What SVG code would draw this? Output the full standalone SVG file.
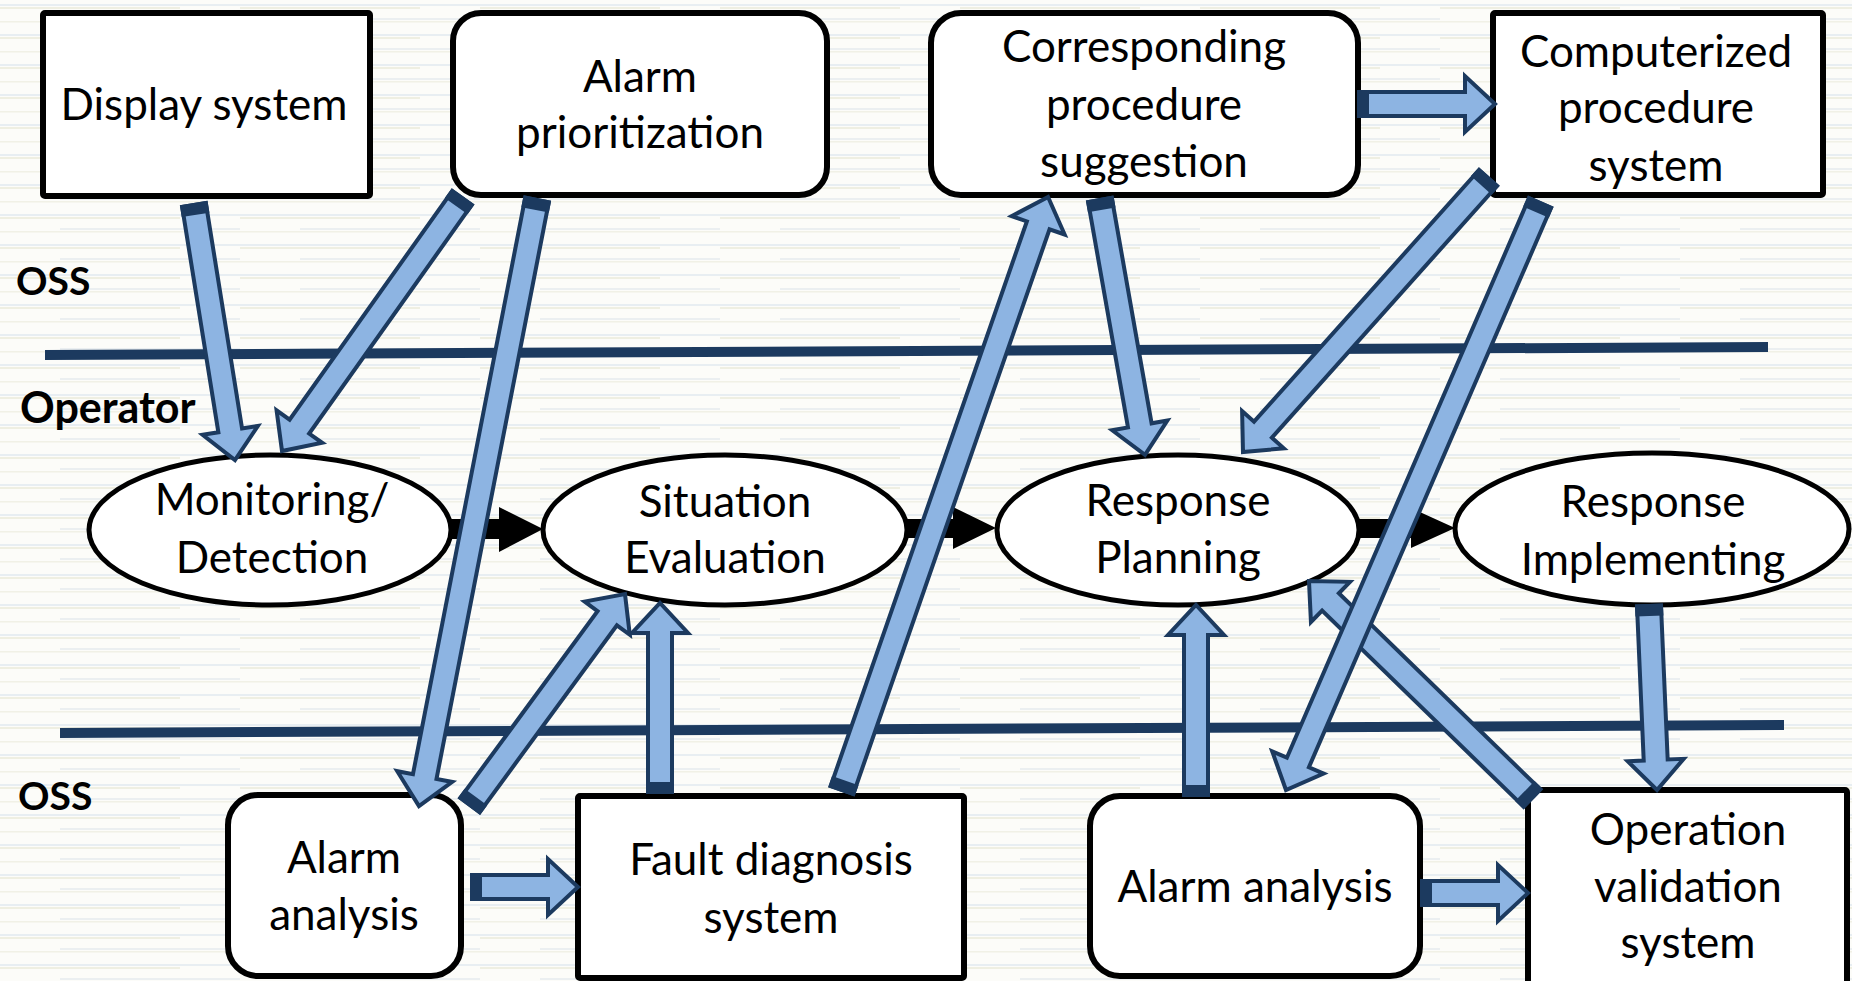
<svg xmlns="http://www.w3.org/2000/svg" width="1852" height="981" viewBox="0 0 1852 981">
<style>
.box{fill:#fff;stroke:#000;stroke-width:6}
.ell{fill:#fff;stroke:#000;stroke-width:5}
.t{font-family:Lato,"Liberation Sans",sans-serif;font-size:44px;fill:#000;text-anchor:middle}
.lbl{font-family:Lato,"Liberation Sans",sans-serif;font-size:39px;font-weight:bold;fill:#000}
.sep{stroke:#1C3A5F;stroke-width:10;fill:none}
.ba{fill:#8DB4E2;stroke:#1C3A5F;stroke-width:4;stroke-linejoin:miter}
.tail{fill:#1C3A5F}
.blk{fill:#000}
</style>
<defs>
<pattern id="bg" patternUnits="userSpaceOnUse" width="240" height="30">
<rect width="240" height="30" fill="#FCFCF9"/>
<rect y="4" width="240" height="2" fill="#E8EEF2"/>
<rect y="7" width="180" height="2" fill="#EFEFE2"/>
<rect x="60" y="18" width="180" height="2" fill="#EBEFF1"/>
<rect y="21" width="240" height="1.5" fill="#F1F1E6"/>
</pattern>
</defs>
<rect width="1852" height="981" fill="url(#bg)"/>

<g id="separators">
<line class="sep" x1="45" y1="355" x2="1768" y2="347"/>
<line class="sep" x1="60" y1="733" x2="1784" y2="725"/>
</g>

<g id="labels">
<text class="lbl" x="16" y="295">OSS</text>
<text class="lbl" x="20" y="423" style="font-size:43px">Operator</text>
<text class="lbl" x="18" y="810">OSS</text>
</g>

<g id="nodes">
<g id="display-system">
<rect class="box" x="43" y="13" width="327" height="183" rx="2"/>
<text class="t" x="204" y="120">Display system</text>
</g>
<g id="alarm-prioritization">
<rect class="box" x="453" y="13" width="374" height="182" rx="28"/>
<text class="t" x="640" y="92">Alarm</text>
<text class="t" x="640" y="148">prioritization</text>
</g>
<g id="corresponding-procedure">
<rect class="box" x="931" y="13" width="427" height="182" rx="30"/>
<text class="t" x="1144" y="62">Corresponding</text>
<text class="t" x="1144" y="120">procedure</text>
<text class="t" x="1144" y="177">suggestion</text>
</g>
<g id="computerized-procedure">
<rect class="box" x="1493" y="13" width="330" height="182" rx="2"/>
<text class="t" x="1656" y="67">Computerized</text>
<text class="t" x="1656" y="123">procedure</text>
<text class="t" x="1656" y="181">system</text>
</g>
<g id="monitoring">
<ellipse class="ell" cx="270" cy="530" rx="181" ry="75"/>
<text class="t" x="272" y="515">Monitoring/</text>
<text class="t" x="272" y="573">Detection</text>
</g>
<g id="situation">
<ellipse class="ell" cx="725" cy="530" rx="182" ry="75"/>
<text class="t" x="725" y="517">Situation</text>
<text class="t" x="725" y="573">Evaluation</text>
</g>
<g id="planning">
<ellipse class="ell" cx="1178" cy="530" rx="181" ry="75"/>
<text class="t" x="1178" y="516">Response</text>
<text class="t" x="1178" y="573">Planning</text>
</g>
<g id="implementing">
<ellipse class="ell" cx="1652" cy="529" rx="197" ry="76"/>
<text class="t" x="1653" y="517">Response</text>
<text class="t" x="1653" y="575">Implementing</text>
</g>
<g id="alarm-analysis-1">
<rect class="box" x="228" y="795" width="233" height="181" rx="30"/>
<text class="t" x="344" y="873">Alarm</text>
<text class="t" x="344" y="930">analysis</text>
</g>
<g id="fault-diagnosis">
<rect class="box" x="578" y="796" width="386" height="182" rx="2"/>
<text class="t" x="771" y="875">Fault diagnosis</text>
<text class="t" x="771" y="933">system</text>
</g>
<g id="alarm-analysis-2">
<rect class="box" x="1090" y="796" width="330" height="180" rx="30"/>
<text class="t" x="1255" y="902">Alarm analysis</text>
</g>
<g id="operation-validation">
<rect class="box" x="1528" y="790" width="319" height="200" rx="2"/>
<text class="t" x="1688" y="845">Operation</text>
<text class="t" x="1688" y="902">validation</text>
<text class="t" x="1688" y="958">system</text>
</g>
</g>

<g id="connectors">
<polygon class="blk" points="449,519 499,519 499,507 543,529 499,552 499,539 449,539"/>
<polygon class="blk" points="905,519 953,519 953,507 996,528 953,549 953,538 905,538"/>
<polygon class="blk" points="1357,519 1411,519 1411,508 1455,528 1411,548 1411,538 1357,538"/>

<g transform="translate(194,205) rotate(80.87)"><polygon class="ba" points="0,-12 228.3,-12 228.3,-28 258.3,0 228.3,28 228.3,12 0,12"/><rect class="tail" x="-2" y="-14" width="12" height="28"/></g>
<g transform="translate(462,198) rotate(125.43)"><polygon class="ba" points="0,-12 280.5,-12 280.5,-28 310.5,0 280.5,28 280.5,12 0,12"/><rect class="tail" x="-2" y="-14" width="12" height="28"/></g>
<g transform="translate(470,805) rotate(-53.70)"><polygon class="ba" points="0,-12 231.8,-12 231.8,-28 261.8,0 231.8,28 231.8,12 0,12"/><rect class="tail" x="-2" y="-14" width="12" height="28"/></g>
<g transform="translate(660,792) rotate(-90)"><polygon class="ba" points="0,-12 159,-12 159,-28 189,0 159,28 159,12 0,12"/><rect class="tail" x="-2" y="-14" width="12" height="28"/></g>
<g transform="translate(1100,200) rotate(79.99)"><polygon class="ba" points="0,-12 228.9,-12 228.9,-28 258.9,0 228.9,28 228.9,12 0,12"/><rect class="tail" x="-2" y="-14" width="12" height="28"/></g>
<g transform="translate(1359,104) rotate(0)"><polygon class="ba" points="0,-12 106,-12 106,-28 136,0 106,28 106,12 0,12"/><rect class="tail" x="-2" y="-14" width="12" height="28"/></g>
<g transform="translate(1488,178) rotate(131.80)"><polygon class="ba" points="0,-12 337.6,-12 337.6,-28 367.6,0 337.6,28 337.6,12 0,12"/><rect class="tail" x="-2" y="-14" width="12" height="28"/></g>
<g transform="translate(1532,798) rotate(-135.78)"><polygon class="ba" points="0,-12 281.2,-12 281.2,-28 311.2,0 281.2,28 281.2,12 0,12"/><rect class="tail" x="-2" y="-14" width="12" height="28"/></g>
<g transform="translate(1649,606) rotate(87.51)"><polygon class="ba" points="0,-12 154.2,-12 154.2,-28 184.2,0 154.2,28 154.2,12 0,12"/><rect class="tail" x="-2" y="-14" width="12" height="28"/></g>
<g transform="translate(1196,795) rotate(-90)"><polygon class="ba" points="0,-12 160,-12 160,-28 190,0 160,28 160,12 0,12"/><rect class="tail" x="-2" y="-14" width="12" height="28"/></g>
<g transform="translate(472,887) rotate(0)"><polygon class="ba" points="0,-12 76,-12 76,-28 106,0 76,28 76,12 0,12"/><rect class="tail" x="-2" y="-14" width="12" height="28"/></g>
<g transform="translate(1422,893) rotate(0)"><polygon class="ba" points="0,-12 76,-12 76,-28 106,0 76,28 76,12 0,12"/><rect class="tail" x="-2" y="-14" width="12" height="28"/></g>
<g transform="translate(537,200) rotate(101.02)"><polygon class="ba" points="0,-12 587.4,-12 587.4,-28 617.4,0 587.4,28 587.4,12 0,12"/><rect class="tail" x="-2" y="-14" width="12" height="28"/></g>
<g transform="translate(842,790) rotate(-70.84)"><polygon class="ba" points="0,-12 597.8,-12 597.8,-28 627.8,0 597.8,28 597.8,12 0,12"/><rect class="tail" x="-2" y="-14" width="12" height="28"/></g>
<g transform="translate(1540,203) rotate(113.40)"><polygon class="ba" points="0,-12 609.6,-12 609.6,-28 639.6,0 609.6,28 609.6,12 0,12"/><rect class="tail" x="-2" y="-14" width="12" height="28"/></g>
</g>
</svg>
